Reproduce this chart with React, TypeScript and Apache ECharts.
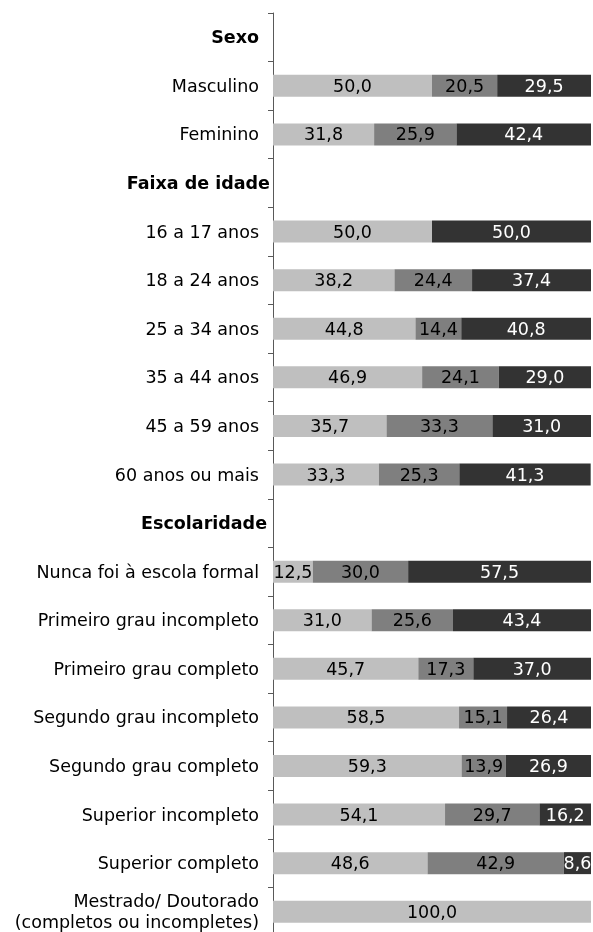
import React, { useEffect, useRef } from "react";
import * as echarts from "echarts";

const categories = [
  "Sexo",
  "Masculino",
  "Feminino",
  "Faixa de idade",
  "16 a 17 anos",
  "18 a 24 anos",
  "25 a 34 anos",
  "35 a 44 anos",
  "45 a 59 anos",
  "60 anos ou mais",
  "Escolaridade",
  "Nunca foi à escola formal",
  "Primeiro grau incompleto",
  "Primeiro grau completo",
  "Segundo grau incompleto",
  "Segundo grau completo",
  "Superior incompleto",
  "Superior completo",
  "Mestrado/ Doutorado\n(completos ou incompletes)",
];

const headings = ["Sexo", "Faixa de idade", "Escolaridade"];

const seriesA = [null, 50.0, 31.8, null, 50.0, 38.2, 44.8, 46.9, 35.7, 33.3, null, 12.5, 31.0, 45.7, 58.5, 59.3, 54.1, 48.6, 100.0];
const seriesB = [null, 20.5, 25.9, null, null, 24.4, 14.4, 24.1, 33.3, 25.3, null, 30.0, 25.6, 17.3, 15.1, 13.9, 29.7, 42.9, null];
const seriesC = [null, 29.5, 42.4, null, 50.0, 37.4, 40.8, 29.0, 31.0, 41.3, null, 57.5, 43.4, 37.0, 26.4, 26.9, 16.2, 8.6, null];

const FONT = "DejaVu Sans";
const FS = 17.5;

export default function App() {
  const ref = useRef<HTMLDivElement>(null);
  useEffect(() => {
    if (!ref.current) return;
    const chart = echarts.init(ref.current, undefined, { renderer: "svg" });
    const fmt = (v: number | null) => (v == null ? "" : v.toFixed(1).replace(".", ","));
    const mkSeries = (name: string, data: (number | null)[], color: string, textColor: string) => ({
      name,
      type: "bar",
      stack: "total",
      data,
      barWidth: 22,
      itemStyle: { color },
      label: {
        show: true,
        position: "inside",
        color: textColor,
        fontFamily: FONT,
        fontSize: FS,
        formatter: (p: any) => fmt(p.value),
      },
    });
    chart.setOption({
      animation: false,
      grid: { left: 273, right: 2, top: 13, bottom: 0 },
      xAxis: { type: "value", min: 0, max: 100, show: false },
      yAxis: {
        type: "category",
        inverse: true,
        data: categories,
        axisLine: { show: true, lineStyle: { color: "#595959", width: 1 } },
        axisTick: { show: true, length: 5, lineStyle: { color: "#595959" } },
        axisLabel: {
          margin: 3,
          fontFamily: FONT,
          fontSize: FS,
          color: "#000",
          formatter: (v: string) => {
            if (v === "Sexo") return "{s|" + v + "}";
            if (v === "Faixa de idade") return "{f|" + v + "}";
            if (v === "Escolaridade") return "{e|" + v + "}";
            return v
              .split("\n")
              .map((l) => "{n|" + l + "}")
              .join("\n");
          },
          rich: {
            n: { fontFamily: FONT, fontSize: FS, color: "#000", padding: [0, 11, 0, 0], lineHeight: 21 },
            s: { fontFamily: FONT, fontSize: FS, fontWeight: "bold", color: "#000", padding: [0, 11, 0, 0] },
            f: { fontFamily: FONT, fontSize: FS, fontWeight: "bold", color: "#000", padding: [0, 0, 0, 0] },
            e: { fontFamily: FONT, fontSize: FS, fontWeight: "bold", color: "#000", padding: [0, 3, 0, 0] },
          },
        },
      },
      series: [
        mkSeries("A", seriesA, "#bfbfbf", "#000"),
        mkSeries("B", seriesB, "#7f7f7f", "#000"),
        mkSeries("C", seriesC, "#333333", "#fff"),
      ],
    });
    return () => chart.dispose();
  }, []);
  return (
    <div
      ref={ref}
      style={{ position: "fixed", left: 0, top: 0, width: 593, height: 936 }}
    />
  );
}
